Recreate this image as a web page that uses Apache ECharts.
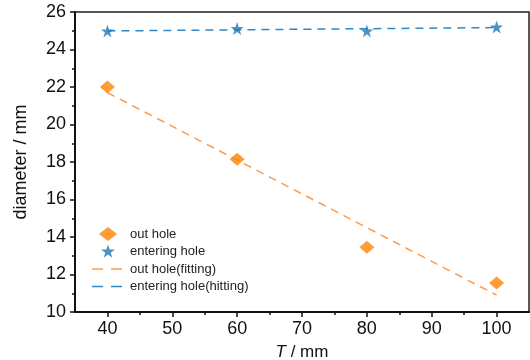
<!DOCTYPE html>
<html><head><meta charset="utf-8">
<script src="https://cdn.jsdelivr.net/npm/echarts@6/dist/echarts.min.js"></script>
<style>html,body{margin:0;padding:0;background:#fff}#c{width:530px;height:360px}</style>
</head><body><div id="c"></div>
<script>
const T = [40, 60, 80, 100];
const outHole = [22.0, 18.15, 13.45, 11.55];
const enteringHole = [24.99, 25.12, 24.99, 25.2];
const outFitX = [40, 100];
const outFit = [21.7, 10.9];
const enterFitX = [40, 100];
const enterFit = [24.99, 25.17];
const xTicks = [40, 50, 60, 70, 80, 90, 100];
const xMinor = [45, 55, 65, 75, 85, 95];

const FONT = '"Liberation Sans",Arial,sans-serif';
const star = 'path://M50,0 L61.8,35.4 L99,35.4 L69,57.3 L80.4,92.7 L50,70.8 L19.6,92.7 L31,57.3 L1,35.4 L38.2,35.4 Z';
// legend icons drawn in a 34x16 box (corner moveTo points fix the box)
const legDiamond = 'path://M0,0 M34,16 M17,1 L26,8 L17,15 L8,8 Z';
const legStar = 'path://M0,0 M34,16 M17,1 L18.7,6 L24,6 L19.7,9.2 L21.3,14.3 L17,11.1 L12.7,14.3 L14.3,9.2 L10,6 L15.3,6 Z';
const legDash = 'path://M0,0 M34,16 M1,7.2 L12,7.2 L12,8.8 L1,8.8 Z M20,7.2 L31,7.2 L31,8.8 L20,8.8 Z';
const pairs = (xs, ys) => xs.map((x, i) => [x, ys[i]]);

const chart = echarts.init(document.getElementById('c'), null, {renderer: 'canvas'});
chart.setOption({
  animation: false,
  backgroundColor: '#fff',
  grid: {left: 75, top: 12, right: 1, bottom: 48, show: true, borderColor: '#222', borderWidth: 1.5,
    outerBoundsMode: 'none', containLabel: false},
  xAxis: [{
    type: 'value', min: 35, max: 105,
    name: '{i|T} / mm', nameLocation: 'middle', nameGap: 32,
    nameTextStyle: {fontFamily: FONT, fontSize: 17, color: '#111',
      rich: {i: {fontFamily: FONT, fontStyle: 'italic', fontSize: 17, color: '#111'}}},
    axisLine: {show: true, onZero: false, lineStyle: {color: '#111', width: 2}},
    axisTick: {show: true, inside: false, length: 5, lineStyle: {color: '#111', width: 1.5}, customValues: xTicks},
    axisLabel: {fontFamily: FONT, fontSize: 18, color: '#111', margin: 8, customValues: xTicks},
    splitLine: {show: false}
  }, {
    type: 'value', min: 35, max: 105, position: 'bottom',
    axisLine: {show: false},
    axisTick: {show: true, inside: false, length: 3, lineStyle: {color: '#111', width: 1.5}, customValues: xMinor},
    axisLabel: {show: false, customValues: xMinor},
    splitLine: {show: false}
  }],
  yAxis: {
    type: 'value', min: 10, max: 26, interval: 2,
    name: 'diameter / mm', nameLocation: 'middle', nameGap: 45,
    nameTextStyle: {fontFamily: FONT, fontSize: 18, color: '#111'},
    axisLine: {show: true, onZero: false, lineStyle: {color: '#111', width: 2}},
    axisTick: {show: true, inside: false, length: 5, lineStyle: {color: '#111', width: 1.5}},
    minorTick: {show: true, splitNumber: 2, length: 3, lineStyle: {color: '#111', width: 1.5}},
    axisLabel: {fontFamily: FONT, fontSize: 18, color: '#111', margin: 9},
    splitLine: {show: false}, minorSplitLine: {show: false}
  },
  legend: {
    orient: 'vertical', left: 86, top: 221, itemGap: 1.5,
    itemWidth: 34, itemHeight: 16,
    textStyle: {fontFamily: FONT, fontSize: 13, color: '#222'},
    data: [
      {name: 'out hole', icon: legDiamond},
      {name: 'entering hole', icon: legStar},
      {name: 'out hole(fitting)', icon: legDash},
      {name: 'entering hole(hitting)', icon: legDash}
    ]
  },
  series: [
    {name: 'out hole(fitting)', type: 'line', data: pairs(outFitX, outFit), symbol: 'none',
      lineStyle: {color: '#ff9a4a', width: 1.5, type: [8, 6]}, itemStyle: {color: '#ff9a4a'}, z: 1},
    {name: 'entering hole(hitting)', type: 'line', data: pairs(enterFitX, enterFit), symbol: 'none',
      lineStyle: {color: '#2e88c8', width: 1.5, type: [8, 6]}, itemStyle: {color: '#2e88c8'}, z: 1},
    {name: 'out hole', type: 'scatter', data: pairs(T, outHole), symbol: 'diamond', symbolSize: [15, 13],
      itemStyle: {color: '#ff8300'}, z: 3},
    {name: 'entering hole', type: 'scatter', data: pairs(T, enteringHole), symbol: star, symbolSize: 13,
      itemStyle: {color: '#1f77b4'}, z: 3}
  ]
});
</script></body></html>
